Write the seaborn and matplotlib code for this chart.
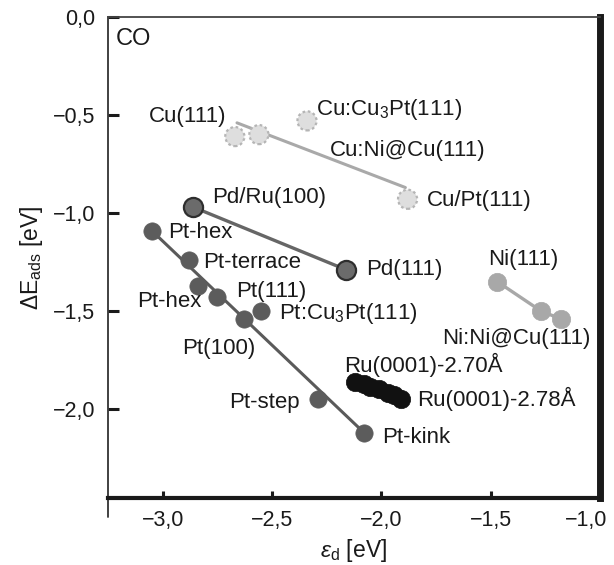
import numpy as np
import pandas as pd
import matplotlib
matplotlib.use("Agg")
import matplotlib.pyplot as plt
import matplotlib.transforms as mtransforms
from matplotlib.ticker import FuncFormatter, FixedLocator
from matplotlib.lines import Line2D
import seaborn as sns

# ---- data: d-band centre (eV) vs CO adsorption energy (eV) ----
cu_names = ["Cu(111)", "Cu:Ni@Cu(111)", "Cu:Cu$_3$Pt(111)", "Cu/Pt(111)"]
cu_ed = [-2.67, -2.56, -2.34, -1.88]
cu_e = [-0.61, -0.60, -0.53, -0.93]
cu_fit_ed = [-2.66, -1.89]
cu_fit_e = [-0.54, -0.87]

pd_names = ["Pd/Ru(100)", "Pd(111)"]
pd_ed = [-2.86, -2.16]
pd_e = [-0.97, -1.29]

pt_names = ["Pt-hex", "Pt-terrace", "Pt-hex", "Pt(111)", "Pt(100)",
            "Pt:Cu$_3$Pt(111)", "Pt-step", "Pt-kink"]
pt_ed = [-3.05, -2.88, -2.84, -2.75, -2.63, -2.55, -2.29, -2.08]
pt_e = [-1.09, -1.24, -1.37, -1.43, -1.54, -1.50, -1.95, -2.12]
pt_fit_ed = [-3.05, -2.08]
pt_fit_e = [-1.09, -2.12]

ni_names = ["Ni(111)", "Ni:Ni@Cu(111)", "Ni:Ni@Cu(111)"]
ni_ed = [-1.47, -1.27, -1.18]
ni_e = [-1.35, -1.50, -1.54]

ru_ed = [-2.12, -2.08, -2.05, -2.01, -1.97, -1.94, -1.91]
ru_e = [-1.86, -1.87, -1.89, -1.90, -1.92, -1.93, -1.95]

x_ticks = [-3.0, -2.5, -2.0, -1.5, -1.0]
y_ticks = [0.0, -0.5, -1.0, -1.5, -2.0]

# ---- style ----
sns.set_style("white")
plt.rcParams["font.family"] = ["Liberation Sans", "DejaVu Sans"]
plt.rcParams["mathtext.fontset"] = "custom"
plt.rcParams["mathtext.rm"] = "Liberation Sans"
plt.rcParams["mathtext.it"] = "Liberation Sans:italic"
plt.rcParams["mathtext.default"] = "regular"

fig = plt.figure(figsize=(6.14, 5.65), dpi=100)
ax = fig.add_axes([0.1759, 0.1186, 0.8013, 0.8513])

# fit / connecting lines
sns.lineplot(x=cu_fit_ed, y=cu_fit_e, ax=ax, color="#a9a9a9", lw=2.2, zorder=1, sort=False)
sns.lineplot(x=pd_ed, y=pd_e, ax=ax, color="#666666", lw=2.4, zorder=1, sort=False)
sns.lineplot(x=pt_fit_ed, y=pt_fit_e, ax=ax, color="#5a5a5a", lw=2.2, zorder=1, sort=False)
sns.lineplot(x=ni_ed, y=ni_e, ax=ax, color="#a8a8a8", lw=2.4, zorder=1, sort=False)

# markers
sns.scatterplot(x=cu_ed, y=cu_e, ax=ax, s=190, color="#dedede", edgecolor="#b5b5b5",
                linewidth=1.6, linestyle=(0, (1.2, 1.2)), zorder=3)
sns.scatterplot(x=pd_ed, y=pd_e, ax=ax, s=190, color="#6b6b6b", edgecolor="#2e2e2e",
                linewidth=1.6, zorder=3)
sns.scatterplot(x=pt_ed, y=pt_e, ax=ax, s=155, color="#5c5c5c", edgecolor="#5c5c5c",
                linewidth=0.5, zorder=3)
sns.scatterplot(x=ni_ed, y=ni_e, ax=ax, s=175, color="#a8a8a8", edgecolor="#a8a8a8",
                linewidth=0.5, zorder=3)
sns.scatterplot(x=ru_ed, y=ru_e, ax=ax, s=175, color="#111111", edgecolor="#111111",
                linewidth=0.5, zorder=3)

# point labels (left edge, vertical centre) in data coordinates
labels = [
    ("Cu(111)", -3.064, -0.51),
    ("Cu:Cu$_3$Pt(111)", -2.30, -0.474),
    ("Cu:Ni@Cu(111)", -2.237, -0.679),
    ("Cu/Pt(111)", -1.79, -0.934),
    ("Pd/Ru(100)", -2.776, -0.923),
    ("Pt-hex", -2.977, -1.097),
    ("Pt-terrace", -2.817, -1.25),
    ("Pd(111)", -2.068, -1.286),
    ("Ni(111)", -1.511, -1.235),
    ("Pt(111)", -2.662, -1.398),
    ("Pt-hex", -3.119, -1.454),
    ("Pt:Cu$_3$Pt(111)", -2.466, -1.515),
    ("Ni:Ni@Cu(111)", -1.721, -1.638),
    ("Pt(100)", -2.913, -1.689),
    ("Ru(0001)-2.70Å", -2.169, -1.776),
    ("Ru(0001)-2.78Å", -1.836, -1.949),
    ("Pt-step", -2.694, -1.969),
    ("Pt-kink", -1.995, -2.143),
]
for text, lx, ly in labels:
    ax.text(lx, ly, text, fontsize=16, ha="left", va="center", color="#1a1a1a", zorder=4)

ax.text(0.015, 0.955, "CO", transform=ax.transAxes, fontsize=17, ha="left",
        va="center", color="#1a1a1a")

# axes limits, ticks and labels
ax.set_xlim(-3.25, -1.0)
ax.set_ylim(-2.454, 0.0)
ax.xaxis.set_major_locator(FixedLocator(x_ticks))
ax.yaxis.set_major_locator(FixedLocator(y_ticks))
fmt = FuncFormatter(lambda v, p: f"{v:.1f}".replace("-", "\u2212").replace(".", ","))
ax.xaxis.set_major_formatter(fmt)
ax.yaxis.set_major_formatter(fmt)
ax.tick_params(axis="x", direction="in", length=5, width=2.2, pad=9,
               labelsize=15.5, colors="#1a1a1a", bottom=True)
ax.tick_params(axis="y", direction="in", length=8, width=2.2, pad=9,
               labelsize=15.5, colors="#1a1a1a", left=True)

ax.set_xlabel("$\\mathit{ε}_{d}$ [eV]", fontsize=16.5, color="#1a1a1a", labelpad=4)
ax.set_ylabel("ΔE$_{ads}$ [eV]", fontsize=16.5, color="#1a1a1a", labelpad=6)

# keep the last x tick label inside the figure edge
fig.canvas.draw()
last = ax.get_xticklabels()[-1]
last.set_transform(last.get_transform() +
                   mtransforms.ScaledTranslation(-14 / 100, 0, fig.dpi_scale_trans))

# frame
ax.spines["top"].set_linewidth(1.3)
ax.spines["top"].set_color("#444444")
ax.spines["left"].set_linewidth(1.3)
ax.spines["left"].set_color("#333333")
ax.spines["bottom"].set_linewidth(3.0)
ax.spines["bottom"].set_color("#1a1a1a")
ax.spines["right"].set_linewidth(5.0)
ax.spines["right"].set_color("#1a1a1a")
ax.add_line(Line2D([0, 0], [0, -0.04], transform=ax.transAxes, color="#333333",
                   lw=1.3, clip_on=False))

fig.savefig("out.png", dpi=100)
